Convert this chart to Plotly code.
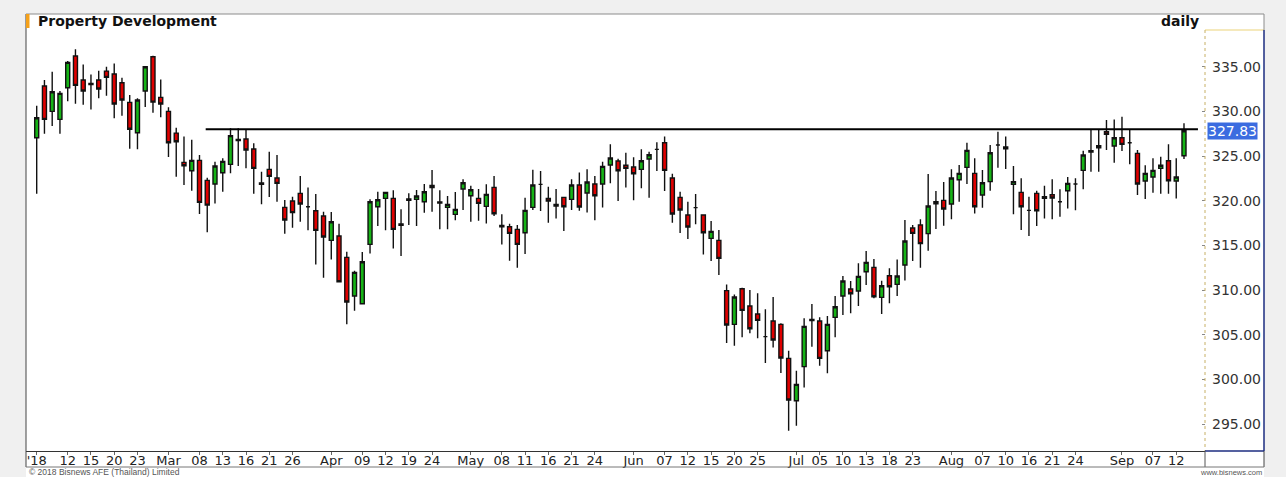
import pandas as pd
import plotly.graph_objects as go

# ---------------- data ----------------
holidays = ["2018-03-01", "2018-04-06", "2018-04-13", "2018-04-16", "2018-05-01",
            "2018-05-29", "2018-07-27", "2018-07-30", "2018-08-13"]
dates = [d.strftime("%Y-%m-%d") for d in pd.bdate_range("2018-02-06", "2018-09-13")
         if d.strftime("%Y-%m-%d") not in holidays]

opens = [327.05, 332.84, 330.00, 329.10, 332.65, 336.19, 333.51, 333.13, 333.51, 334.51,
         334.18, 333.21, 331.01, 327.61, 332.28, 336.12, 331.57, 330.00, 327.57, 324.29,
         323.36, 324.51, 322.28, 321.87, 323.13, 324.07, 326.87, 326.90, 325.78, 321.83,
         323.51, 322.54, 319.25, 319.96, 320.82, 319.33, 318.88, 318.28, 315.56, 316.04,
         313.66, 309.33, 308.47, 315.11, 319.33, 320.26, 320.26, 317.39, 320.19, 320.15,
         319.89, 321.72, 319.85, 319.25, 318.47, 321.31, 320.56, 320.26, 319.37, 321.49,
         317.09, 317.09, 316.79, 316.42, 319.25, 321.83, 320.26, 319.40, 320.37, 320.15,
         321.75, 320.86, 321.87, 321.87, 323.99, 324.44, 323.96, 323.77, 323.51, 324.66,
         325.75, 326.49, 322.54, 320.37, 318.40, 319.22, 318.40, 315.78, 315.56, 309.93,
         306.16, 310.15, 308.21, 307.31, 304.78, 306.53, 306.16, 302.35, 297.61, 301.42,
         306.72, 306.53, 303.21, 306.94, 309.33, 310.11, 309.89, 312.05, 312.54, 309.18,
         311.60, 310.63, 312.80, 316.94, 317.28, 316.31, 319.89, 320.04, 319.63, 322.35,
         323.73, 323.06, 320.63, 322.13, 326.23, 326.01, 321.83, 320.93, 318.92, 320.82,
         320.26, 320.67, 319.89, 321.12, 321.87, 323.40, 325.45, 326.16, 327.72, 326.12,
         327.05, 326.49, 325.30, 322.20, 322.65, 323.62, 324.48, 322.20, 325.04]
highs = [330.63, 333.51, 334.44, 332.28, 335.63, 336.94, 335.26, 334.14, 334.55, 335.00,
         335.37, 333.77, 331.83, 331.46, 335.05, 336.23, 333.58, 330.45, 328.17, 327.20,
         326.83, 325.11, 322.57, 324.37, 324.74, 328.10, 328.10, 328.02, 326.42, 323.25,
         325.49, 325.11, 320.07, 320.45, 322.76, 321.49, 320.75, 318.77, 318.73, 317.43,
         314.29, 312.16, 314.25, 320.15, 321.01, 321.01, 321.16, 319.03, 320.82, 321.19,
         321.87, 323.43, 321.16, 320.52, 320.97, 322.39, 321.68, 321.31, 321.83, 322.76,
         318.47, 317.43, 317.28, 320.34, 323.47, 323.32, 321.57, 321.31, 320.45, 322.39,
         323.17, 323.51, 322.76, 324.37, 326.31, 324.70, 325.37, 324.85, 325.75, 325.49,
         326.53, 327.20, 323.02, 321.01, 319.89, 320.75, 318.47, 317.72, 316.72, 310.63,
         309.51, 310.26, 310.00, 309.63, 307.84, 309.22, 306.27, 303.21, 300.97, 306.83,
         308.43, 306.94, 307.09, 309.33, 311.57, 311.01, 312.99, 314.37, 313.47, 311.04,
         312.43, 313.43, 317.84, 317.28, 317.91, 322.99, 321.08, 322.09, 323.51, 323.99,
         326.49, 324.74, 323.43, 326.23, 327.72, 327.20, 323.88, 322.50, 320.45, 321.12,
         321.68, 322.39, 321.27, 322.65, 322.50, 325.60, 328.02, 328.02, 329.03, 329.10,
         329.40, 327.91, 325.67, 323.96, 324.74, 324.93, 326.31, 324.74, 328.66]
lows = [320.78, 327.50, 328.36, 327.50, 331.12, 330.86, 330.75, 330.22, 331.46, 331.75,
        329.22, 329.51, 325.82, 325.75, 330.49, 329.85, 329.33, 324.89, 322.69, 321.75,
        321.12, 318.51, 316.46, 319.70, 321.01, 323.06, 323.88, 323.62, 320.78, 319.59,
        320.41, 319.89, 316.31, 316.98, 317.65, 316.68, 312.87, 311.38, 313.43, 310.90,
        306.16, 307.69, 308.40, 314.10, 317.16, 316.68, 314.66, 313.81, 317.28, 317.16,
        318.66, 318.77, 316.79, 316.79, 317.80, 318.96, 317.65, 317.76, 317.46, 318.28,
        315.11, 313.28, 312.50, 314.03, 318.96, 318.84, 317.54, 318.02, 316.60, 318.96,
        318.88, 318.69, 317.80, 319.25, 321.94, 319.96, 321.49, 320.04, 321.38, 320.34,
        323.32, 321.08, 317.54, 316.38, 315.71, 317.35, 313.99, 313.25, 311.68, 304.07,
        303.77, 304.70, 305.15, 304.59, 301.83, 303.58, 300.71, 294.25, 294.81, 299.10,
        303.66, 301.53, 300.67, 304.70, 307.20, 307.39, 308.21, 310.56, 309.07, 307.31,
        308.51, 309.33, 311.08, 313.25, 312.50, 314.40, 316.83, 317.20, 317.91, 319.89,
        321.87, 318.58, 319.22, 321.12, 323.69, 323.54, 318.47, 316.72, 316.04, 317.16,
        318.02, 317.91, 318.21, 319.14, 318.92, 321.27, 323.25, 323.25, 325.67, 324.25,
        325.56, 324.07, 320.63, 320.19, 320.90, 320.78, 320.78, 320.26, 324.66]
closes = [329.29, 329.10, 332.20, 332.01, 335.49, 332.91, 332.28, 332.99, 332.50, 333.81,
          330.82, 331.27, 327.99, 331.27, 335.00, 331.04, 330.82, 326.49, 326.60, 323.92,
          324.51, 319.81, 319.51, 323.88, 324.40, 327.28, 326.72, 325.67, 323.62, 321.98,
          322.72, 321.94, 317.84, 318.66, 319.63, 319.33, 316.68, 315.93, 317.65, 310.93,
          308.66, 311.98, 313.17, 319.89, 320.11, 320.93, 316.79, 317.24, 320.04, 320.52,
          321.01, 321.46, 319.74, 319.59, 319.03, 322.01, 321.23, 319.70, 320.71, 318.54,
          317.24, 316.34, 315.11, 318.92, 321.75, 321.83, 319.96, 319.59, 319.33, 321.75,
          319.29, 322.09, 320.56, 323.84, 324.78, 323.36, 323.62, 323.02, 324.48, 325.15,
          325.75, 323.40, 318.51, 318.96, 317.05, 319.22, 316.42, 316.57, 313.54, 306.08,
          309.22, 307.72, 305.67, 306.60, 304.78, 304.40, 302.39, 297.69, 299.44, 305.93,
          306.57, 302.35, 306.16, 308.13, 311.01, 309.59, 311.53, 313.10, 309.25, 310.48,
          310.37, 311.57, 315.49, 316.34, 315.19, 319.40, 319.66, 319.07, 322.54, 323.06,
          325.63, 319.33, 322.01, 325.37, 326.23, 325.82, 322.13, 319.33, 318.92, 318.88,
          320.45, 320.30, 319.89, 321.94, 321.87, 325.11, 325.60, 325.93, 327.43, 327.05,
          326.31, 326.49, 321.87, 323.06, 323.40, 323.96, 322.24, 322.65, 327.83]

tick_dates = ["2018-02-06", "2018-02-12", "2018-02-15", "2018-02-20", "2018-02-23",
              "2018-03-02", "2018-03-08", "2018-03-13", "2018-03-16", "2018-03-21", "2018-03-26",
              "2018-04-02", "2018-04-09", "2018-04-12", "2018-04-19", "2018-04-24",
              "2018-05-02", "2018-05-08", "2018-05-11", "2018-05-16", "2018-05-21", "2018-05-24",
              "2018-06-01", "2018-06-07", "2018-06-12", "2018-06-15", "2018-06-20", "2018-06-25",
              "2018-07-02", "2018-07-05", "2018-07-10", "2018-07-13", "2018-07-18", "2018-07-23",
              "2018-08-01", "2018-08-07", "2018-08-10", "2018-08-16", "2018-08-21", "2018-08-24",
              "2018-09-03", "2018-09-07", "2018-09-12"]
tick_labels = ["'18", "12", "15", "20", "23",
               "Mar", "08", "13", "16", "21", "26",
               "Apr", "09", "12", "19", "24",
               "May", "08", "11", "16", "21", "24",
               "Jun", "07", "12", "15", "20", "25",
               "Jul", "05", "10", "13", "18", "23",
               "Aug", "07", "10", "16", "21", "24",
               "Sep", "07", "12"]
y_ticks = [295, 300, 305, 310, 315, 320, 325, 330, 335]

resistance_level = 328.0
resistance_start = "2018-03-09"
last_price = closes[-1]

title_text = "Property Development"
period_text = "daily"
copyright_text = "© 2018 Bisnews AFE (Thailand) Limited"
site_text = "www.bisnews.com"

# ---------------- layout geometry (pixels) ----------------
W, H = 1286, 477
PL, PR, PT, PB = 26, 1205, 14, 451   # plot area
FR = 1264                            # frame right
def px(x): return (x - PL) / (PR - PL)
def py(y): return (PB - y) / (PB - PT)

fig = go.Figure()
fig.add_trace(go.Candlestick(
    x=dates, open=opens, high=highs, low=lows, close=closes,
    increasing=dict(fillcolor="#16b416", line=dict(color="#111111", width=1.4)),
    decreasing=dict(fillcolor="#e00000", line=dict(color="#111111", width=1.4)),
    whiskerwidth=0, showlegend=False, hoverinfo="x+y",
))

n = len(dates)
x0_res = dates.index(resistance_start) - 0.2
fig.add_shape(type="line", xref="x", yref="y", x0=x0_res, x1=n + 0.8,
              y0=resistance_level, y1=resistance_level,
              line=dict(color="#000000", width=2))

def pline(x0, y0, x1, y1, color, width=1, dash=None, layer="above"):
    fig.add_shape(type="line", xref="paper", yref="paper",
                  x0=px(x0), x1=px(x1), y0=py(y0), y1=py(y1), layer=layer,
                  line=dict(color=color, width=width, dash=dash))

# white frame
fig.add_shape(type="rect", xref="paper", yref="paper", x0=px(PL), x1=px(FR),
              y0=py(H + 2), y1=py(PT), fillcolor="white", line=dict(width=0), layer="below")
pline(PL, PT, FR, PT, "#8c8c8c")
pline(PL, PT, PL, 467, "#444444")
fig.add_shape(type="rect", xref="paper", yref="paper", x0=px(PL), x1=px(PL + 3.5),
              y0=py(28), y1=py(PT), fillcolor="#f5a11a", line=dict(width=0))
# right axis panel
pline(PR, 30, FR, 30, "#f2e2a6", 1.5)
pline(PR, 30, PR, PB, "#c7b067", 1, "dot")
pline(FR, PT, FR, 30, "#8c8c8c")
pline(FR, 30, FR, PB, "#1c2c80", 1.5)
pline(PR, PB, FR, PB, "#1c2c80", 1.5)
pline(FR, PB, FR, 467, "#444444")
pline(PR, PB, PR, 467, "#555555")
pline(PL, 467, FR, 467, "#777777")

fig.add_annotation(xref="paper", yref="paper", x=px(36), y=py(21), text="<b>%s</b>" % title_text,
                   showarrow=False, xanchor="left", yanchor="middle",
                   font=dict(family="DejaVu Sans", size=14, color="#111111"))
fig.add_annotation(xref="paper", yref="paper", x=px(1201), y=py(21), text="<b>%s</b>" % period_text,
                   showarrow=False, xanchor="right", yanchor="middle",
                   font=dict(family="DejaVu Sans", size=14, color="#111111"))
fig.add_annotation(xref="paper", yref="paper", x=px(27), y=py(472), text=copyright_text,
                   showarrow=False, xanchor="left", yanchor="middle",
                   font=dict(family="Liberation Sans", size=8.5, color="#555555"))
fig.add_annotation(xref="paper", yref="paper", x=px(1264), y=py(472.5), text=site_text,
                   showarrow=False, xanchor="right", yanchor="middle",
                   font=dict(family="Liberation Sans", size=7.5, color="#555555"))
fig.add_annotation(xref="paper", yref="y", x=px(1207), y=last_price, text="%.2f" % last_price,
                   showarrow=False, xanchor="left", yanchor="middle", bgcolor="#3b6ce0",
                   borderpad=0, font=dict(family="DejaVu Sans", size=14, color="white"))

fig.update_layout(
    width=W, height=H, autosize=False,
    margin=dict(l=PL, r=W - PR, t=PT, b=H - PB, pad=0, autoexpand=False),
    paper_bgcolor="#f0f0f0", plot_bgcolor="white",
    boxgap=0.26,
    xaxis=dict(type="category", range=[-1.38, 150.71], rangeslider=dict(visible=False),
               automargin=False,
               tickmode="array", tickvals=tick_dates, ticktext=tick_labels,
               ticks="outside", ticklen=3, tickcolor="#666666", ticklabelstandoff=-6,
               showline=True, linecolor="#333333", linewidth=1, showgrid=False, zeroline=False,
               tickfont=dict(family="DejaVu Sans", size=13, color="#222222")),
    yaxis=dict(side="right", range=[291.98, 340.90], tickmode="array", tickvals=y_ticks,
               automargin=False,
               tickformat=".2f", ticks="inside", ticklen=3, tickcolor="#888888",
               showline=False, showgrid=False, zeroline=False, ticklabelstandoff=6,
               tickfont=dict(family="DejaVu Sans", size=14, color="#333333")),
)

fig.write_html("out.html", config={"displayModeBar": False},
               post_script="document.body.style.margin='0px';document.body.style.overflow='hidden';")
